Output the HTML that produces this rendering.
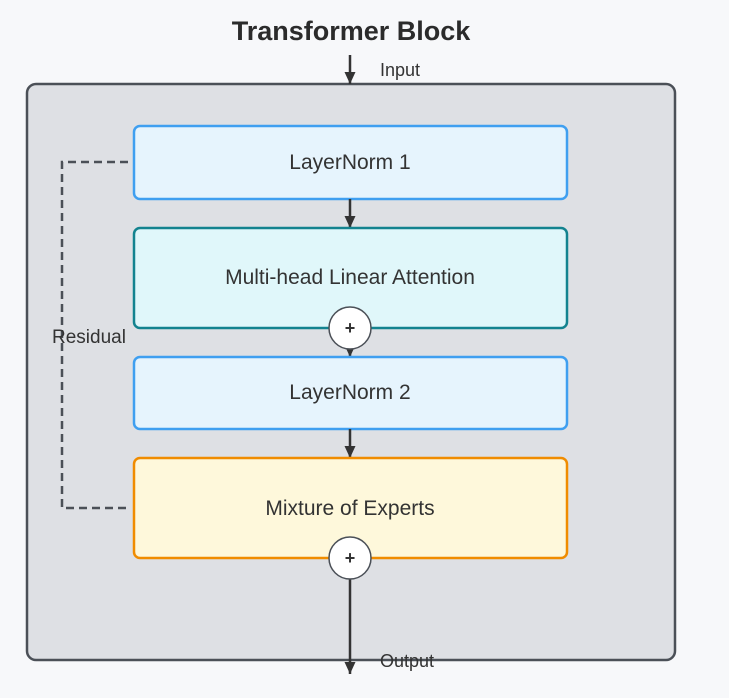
<!DOCTYPE html>
<html><head><style>
html,body{margin:0;padding:0;background:#f7f8fa;}
svg{display:block;font-family:"Liberation Sans",sans-serif;}
</style></head><body>
<svg width="729" height="698" viewBox="0 0 729 698">
<defs><marker id="a" markerWidth="12" markerHeight="12" refX="12" refY="6" orient="auto" markerUnits="userSpaceOnUse"><path d="M0,0.5 L12,6 L0,11.5 Z" fill="#333"/></marker></defs>
<text x="351" y="40" text-anchor="middle" font-size="27" font-weight="bold" fill="#2b2b2b">Transformer Block</text>
<rect x="27" y="84" width="648" height="576" rx="9" fill="#dee0e4" stroke="#4b5057" stroke-width="2.5"/>
<line x1="350" y1="55" x2="350" y2="84" stroke="#333" stroke-width="2.5" marker-end="url(#a)"/>
<text x="380" y="76" font-size="18" fill="#333">Input</text>
<path d="M128,162 H62 V508 H128" fill="none" stroke="#4b5057" stroke-width="2.5" stroke-dasharray="8,5"/>
<text x="52" y="343" font-size="19" fill="#333">Residual</text>
<rect x="134" y="126" width="433" height="73" rx="6" fill="#e6f4fd" stroke="#3f9ff0" stroke-width="2.5"/>
<text x="350" y="169" text-anchor="middle" font-size="21" fill="#333">LayerNorm 1</text>
<line x1="350" y1="199" x2="350" y2="228" stroke="#333" stroke-width="2.5" marker-end="url(#a)"/>
<rect x="134" y="228" width="433" height="100" rx="6" fill="#e0f7fa" stroke="#13838f" stroke-width="2.5"/>
<text x="350" y="284" text-anchor="middle" font-size="21" fill="#333">Multi-head Linear Attention</text>
<line x1="350" y1="345" x2="350" y2="357" stroke="#333" stroke-width="2.5" marker-end="url(#a)"/>
<rect x="134" y="357" width="433" height="72" rx="6" fill="#e6f4fd" stroke="#3f9ff0" stroke-width="2.5"/>
<text x="350" y="399" text-anchor="middle" font-size="21" fill="#333">LayerNorm 2</text>
<line x1="350" y1="429" x2="350" y2="458" stroke="#333" stroke-width="2.5" marker-end="url(#a)"/>
<rect x="134" y="458" width="433" height="100" rx="6" fill="#fef8db" stroke="#f08c00" stroke-width="2.5"/>
<text x="350" y="515" text-anchor="middle" font-size="21" fill="#333">Mixture of Experts</text>
<line x1="350" y1="579" x2="350" y2="674" stroke="#333" stroke-width="2.5" marker-end="url(#a)"/>
<text x="380" y="667" font-size="18" fill="#333">Output</text>
<circle cx="350" cy="328" r="21" fill="#fff" stroke="#4b5057" stroke-width="1.5"/>
<text x="350" y="334" text-anchor="middle" font-size="18" font-weight="bold" fill="#333">+</text>
<circle cx="350" cy="558" r="21" fill="#fff" stroke="#4b5057" stroke-width="1.5"/>
<text x="350" y="564" text-anchor="middle" font-size="18" font-weight="bold" fill="#333">+</text>
</svg>
</body></html>
